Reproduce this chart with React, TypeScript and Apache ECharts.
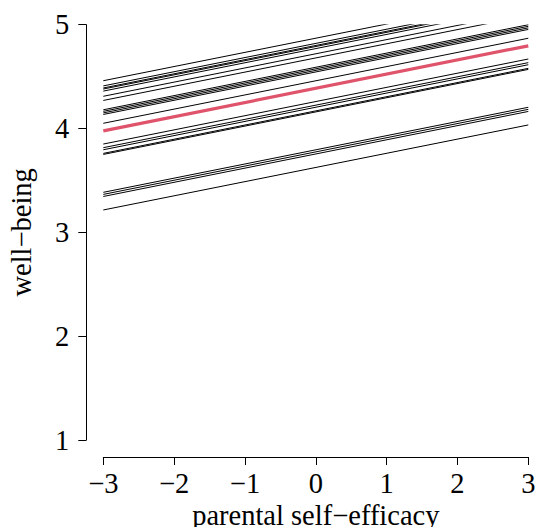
import React, { useEffect, useRef } from "react";
import * as echarts from "echarts";

// Random-intercept model lines: well-being = intercept + slope * parental self-efficacy
const groupIntercepts = [
  4.87, 4.82, 4.8, 4.79, 4.77, 4.72, 4.68, 4.59, 4.575, 4.56, 4.545, 4.46,
  4.26, 4.225, 4.205, 4.17, 4.16, 3.795, 3.775, 3.755, 3.625,
];
const commonSlope = 0.1365;
const fixedIntercept = 4.387;
const xRange = [-3, 3];
const xTicks = [-3, -2, -1, 0, 1, 2, 3];
const yTicks = [1, 2, 3, 4, 5];
const xTitle = "parental self\u2212efficacy";
const yTitle = "well\u2212being";

const FONT = "'Liberation Serif', 'DejaVu Serif', serif";
const FS = 28.5;

export default function App() {
  const ref = useRef<HTMLDivElement>(null);
  useEffect(() => {
    if (!ref.current) return;
    const chart = echarts.init(ref.current, undefined, { renderer: "svg" });
    const lineData = (b0: number) =>
      xRange.map((x) => [x, b0 + commonSlope * x]);
    const series: any[] = groupIntercepts.map((b0) => ({
      type: "line",
      data: lineData(b0),
      symbol: "none",
      silent: true,
      clip: true,
      lineStyle: { color: "#000000", width: 1 },
      z: 2,
    }));
    series.push({
      type: "line",
      data: lineData(fixedIntercept),
      symbol: "none",
      silent: true,
      clip: true,
      lineStyle: { color: "#DF536B", width: 3.2 },
      z: 3,
    });
    const minus = (v: number) => String(v).replace("-", "\u2212");
    chart.setOption({
      animation: false,
      grid: {
        left: 103.3,
        right: 6.7,
        top: 24.7,
        bottom: 87,
        containLabel: false,
        outerBoundsMode: "none",
      },
      xAxis: {
        type: "value",
        min: xTicks[0],
        max: xTicks[xTicks.length - 1],
        interval: 1,
        offset: 17,
        name: xTitle,
        nameLocation: "middle",
        nameGap: 44,
        nameMoveOverlap: false,
        nameTextStyle: {
          fontFamily: FONT,
          fontSize: FS,
          color: "#000",
          verticalAlign: "top",
        },
        axisLine: {
          show: true,
          onZero: false,
          lineStyle: { color: "#000", width: 1 },
        },
        axisTick: { show: true, length: 8, lineStyle: { color: "#000" } },
        axisLabel: {
          show: true,
          margin: 12,
          hideOverlap: false,
          fontFamily: FONT,
          fontSize: FS,
          color: "#000",
          formatter: (v: number) => minus(v),
        },
        splitLine: { show: false },
      },
      yAxis: {
        type: "value",
        min: yTicks[0],
        max: yTicks[yTicks.length - 1],
        interval: 1,
        offset: 17,
        name: yTitle,
        nameLocation: "middle",
        nameGap: 50,
        nameRotate: 90,
        nameTextStyle: { fontFamily: FONT, fontSize: FS, color: "#000" },
        axisLine: {
          show: true,
          onZero: false,
          lineStyle: { color: "#000", width: 1 },
        },
        axisTick: { show: true, length: 8, lineStyle: { color: "#000" } },
        axisLabel: {
          show: true,
          margin: 17,
          fontFamily: FONT,
          fontSize: FS,
          color: "#000",
          formatter: (v: number) => minus(v),
        },
        splitLine: { show: false },
      },
      series,
    });
    return () => chart.dispose();
  }, []);
  return (
    <div
      ref={ref}
      style={{
        position: "fixed",
        left: 0,
        top: 0,
        width: 535,
        height: 527,
        background: "#fff",
      }}
    />
  );
}
